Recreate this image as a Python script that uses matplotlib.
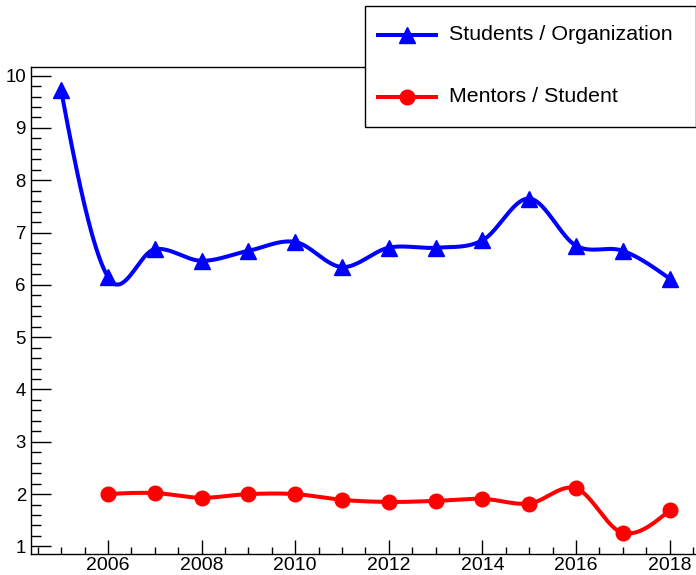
"""Students per organization and mentors per student, ROOT-style smoothed graph."""

import numpy as np
import matplotlib
matplotlib.use("Agg")
import matplotlib.pyplot as plt
from matplotlib.lines import Line2D
from matplotlib.patches import Rectangle
from matplotlib.ticker import MultipleLocator

plt.rcParams["font.family"] = ["Liberation Sans", "DejaVu Sans"]

# data
years_students = [2005, 2006, 2007, 2008, 2009, 2010, 2011, 2012, 2013, 2014, 2015, 2016, 2017, 2018]
students_per_org = [9.72, 6.15, 6.68, 6.46, 6.65, 6.82, 6.34, 6.71, 6.71, 6.85, 7.65, 6.75, 6.65, 6.12]

years_mentors = [2006, 2007, 2008, 2009, 2010, 2011, 2012, 2013, 2014, 2015, 2016, 2017, 2018]
mentors_per_student = [2.0, 2.02, 1.93, 2.0, 2.0, 1.89, 1.85, 1.87, 1.91, 1.82, 2.11, 1.26, 1.69]

labels = ["Students / Organization", "Mentors / Student"]

BLUE = "#0000ff"
RED = "#ff0000"
W, H = 696, 575


def smooth(xs, ys, n=40):
    """Cubic Hermite through the points (like ROOT's "C" draw option)."""
    xs = np.asarray(xs, float)
    ys = np.asarray(ys, float)
    m = np.zeros_like(ys)
    m[1:-1] = (ys[2:] - ys[:-2]) / (xs[2:] - xs[:-2])
    # natural-ish ends
    d0 = (ys[1] - ys[0]) / (xs[1] - xs[0])
    d1 = (ys[-1] - ys[-2]) / (xs[-1] - xs[-2])
    m[0] = 1.6 * d0 - 0.6 * m[1]
    m[-1] = 1.5 * d1 - 0.5 * m[-2]
    out_x, out_y = [], []
    for i in range(len(xs) - 1):
        h = xs[i + 1] - xs[i]
        t = np.linspace(0, 1, n, endpoint=(i == len(xs) - 2))
        h00 = 2 * t**3 - 3 * t**2 + 1
        h10 = t**3 - 2 * t**2 + t
        h01 = -2 * t**3 + 3 * t**2
        h11 = t**3 - t**2
        out_x.append(xs[i] + t * h)
        out_y.append(h00 * ys[i] + h10 * h * m[i] + h01 * ys[i + 1] + h11 * h * m[i + 1])
    return np.concatenate(out_x), np.concatenate(out_y)


fig = plt.figure(figsize=(W / 100, H / 100), dpi=100)
left, right, top, bottom = 30.7, 700.0, 66.7, 554.0
ax = fig.add_axes([left / W, 1 - bottom / H, (right - left) / W, (bottom - top) / H])

sx, sy = smooth(years_students, students_per_org)
ax.plot(sx, sy, color=BLUE, lw=2.9, zorder=2)
ax.plot(years_students, students_per_org, ls="none", marker="^", ms=12, color=BLUE, zorder=3)

mx, my = smooth(years_mentors, mentors_per_student)
ax.plot(mx, my, color=RED, lw=2.9, zorder=2)
ax.plot(years_mentors, mentors_per_student, ls="none", marker="o", ms=10.5, color=RED, zorder=3)

ax.set_xlim(2004.35, 2018.65)
ax.set_ylim(0.855, 10.17)

ax.xaxis.set_major_locator(MultipleLocator(2))
ax.xaxis.set_minor_locator(MultipleLocator(0.5))
ax.yaxis.set_major_locator(MultipleLocator(1))
ax.yaxis.set_minor_locator(MultipleLocator(0.2))
ax.tick_params(axis="both", which="both", direction="in", color="black", width=1.0,
               labelcolor="black")
ax.tick_params(axis="y", which="major", length=14.4, pad=3.4, labelsize=13.4)
ax.tick_params(axis="y", which="minor", length=7.2)
ax.tick_params(axis="x", which="major", length=10, pad=2.2, labelsize=14)
ax.tick_params(axis="x", which="minor", length=5)
ax.tick_params(top=False, right=False)
for sp in ax.spines.values():
    sp.set_linewidth(1.0)
    sp.set_color("black")

# legend box drawn ROOT-style in pixel coordinates
def fx(px):
    return px / W


def fy(py):
    return 1 - py / H


box = Rectangle((fx(365), fy(127)), fx(695.5) - fx(365), fy(6.5) - fy(127),
                transform=fig.transFigure, facecolor="white", edgecolor="black", lw=1.0, zorder=5)
fig.patches.append(box)

rows = [(35, BLUE, "^", 12), (97, RED, "o", 10.5)]
for (ry, col, mk, ms), text in zip(rows, labels):
    fig.add_artist(Line2D([fx(378), fx(436)], [fy(ry), fy(ry)], color=col, lw=2.9,
                          transform=fig.transFigure, zorder=6))
    fig.add_artist(Line2D([fx(406.7)], [fy(ry)], color=col, marker=mk, ms=ms, ls="none",
                          transform=fig.transFigure, zorder=7))
    fig.text(fx(449), fy(ry), text, fontsize=15.4, va="center", ha="left", zorder=7)

fig.savefig("out.png", dpi=100, facecolor="white")
